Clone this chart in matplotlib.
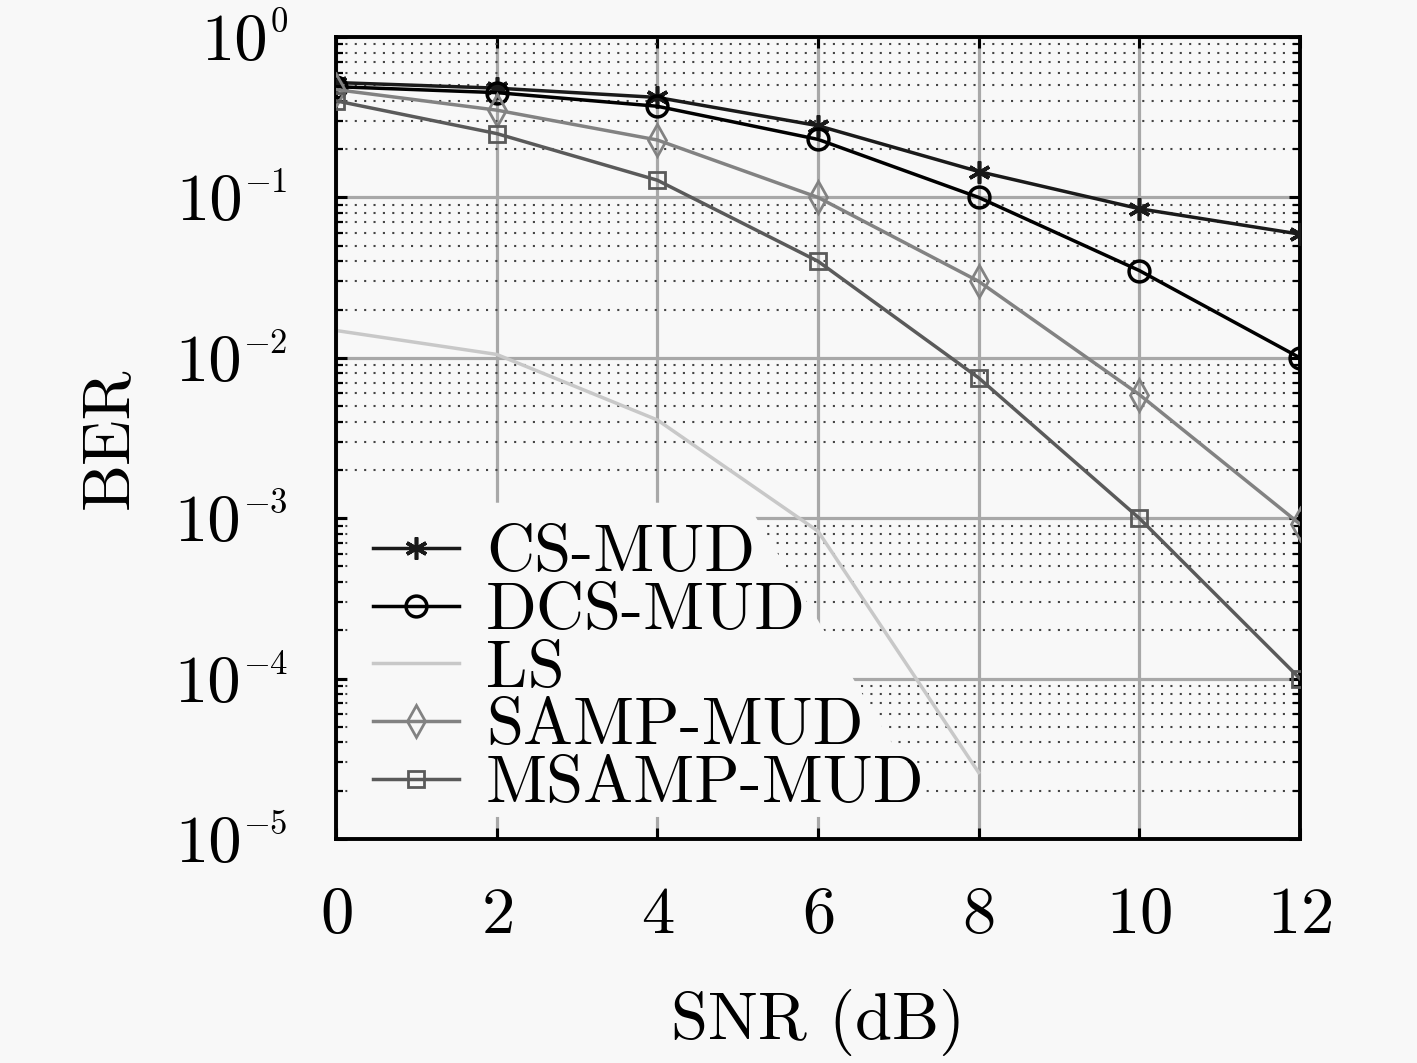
import matplotlib
matplotlib.use("Agg")
import matplotlib.pyplot as plt
import matplotlib.patches as mpatches
from matplotlib.ticker import LogLocator, NullFormatter
import numpy as np

# ── Data ────────────────────────────────────────────────────────────────────
snr = [0, 2, 4, 6, 8, 10, 12]
ber_cs = [0.52, 0.48, 0.42, 0.28, 0.145, 0.085, 0.059]
ber_dcs = [0.49, 0.45, 0.37, 0.23, 0.10, 0.035, 0.010]
snr_ls = [0, 2, 4, 6, 8]
ber_ls = [0.0148, 0.0105, 0.0041, 0.00083, 2.6e-5]
ber_samp = [0.47, 0.35, 0.228, 0.10, 0.030, 0.0059, 0.00092]
ber_msamp = [0.40, 0.25, 0.128, 0.040, 0.0075, 0.0010, 0.0001]

x_ticks = [0, 2, 4, 6, 8, 10, 12]
y_exps = [-5, -4, -3, -2, -1, 0]

BG = "#f8f8f8"

plt.rcParams["font.family"] = "serif"
plt.rcParams["font.serif"] = ["cmr10", "DejaVu Serif"]
plt.rcParams["mathtext.fontset"] = "cm"
plt.rcParams["axes.unicode_minus"] = False
plt.rcParams["axes.formatter.use_mathtext"] = True

fig = plt.figure(figsize=(14.17, 10.63), dpi=100, facecolor=BG)
ax = fig.add_axes([0.2371, 0.2107, 0.9174 - 0.2371, 0.9652 - 0.2107])
ax.set_facecolor(BG)
ax.set_axisbelow(True)

ast = (6, 2, 0)  # asterisk marker
ax.plot(snr, ber_cs, color="#1a1a1a", lw=2.5, marker=ast, ms=16, mew=2.6,
        label="CS-MUD", zorder=3)
ax.plot(snr, ber_dcs, color="black", lw=2.5, marker="o", ms=15, mfc="none",
        mew=2.5, label="DCS-MUD", zorder=3)
ax.plot(snr_ls, ber_ls, color="#c8c8c8", lw=2.5, label="LS", zorder=2)
ax.plot(snr, ber_samp, color="#828282", lw=2.5, marker="d", ms=16, mfc="none",
        mew=2.0, label="SAMP-MUD", zorder=3)
ax.plot(snr, ber_msamp, color="#5a5a5a", lw=2.5, marker="s", ms=11, mfc="none",
        mew=2.0, label="MSAMP-MUD", zorder=3)

ax.set_yscale("log")
ax.set_xlim(0, 12)
ax.set_ylim(1e-5, 1)
ax.set_xticks(x_ticks)
ax.set_yticks([10.0 ** e for e in y_exps])
ax.yaxis.set_minor_locator(LogLocator(base=10, subs=np.arange(2, 10), numticks=20))
ax.yaxis.set_minor_formatter(NullFormatter())

ax.grid(True, which="major", color="#a8a8a8", lw=2.3, ls="-")
ax.grid(True, which="minor", axis="y", color="#444444", lw=1.5, ls=(0, (1, 3.5)))

ax.tick_params(which="both", direction="in", top=True, right=True)
ax.tick_params(which="major", length=8, width=2.2)
ax.tick_params(which="minor", length=5, width=1.6)
ax.tick_params(axis="x", labelsize=48, pad=34)
ax.tick_params(axis="y", labelleft=False)
for sp in ax.spines.values():
    sp.set_linewidth(2.8)

ax.set_xlabel("SNR (dB)", fontsize=48)
ax.set_ylabel("BER", fontsize=48)
ax.xaxis.set_label_coords(0.5, -0.187)
ax.yaxis.set_label_coords(-0.203, 0.5)

leg = ax.legend(loc="lower left", bbox_to_anchor=(0.038, 0.03), frameon=False,
                fontsize=48, handlelength=1.3, handletextpad=0.4,
                labelspacing=-0.03, borderpad=0, borderaxespad=0, numpoints=1)

# y tick labels as "10" plus a small exponent (LaTeX-like proportions)
sups = []
for e in y_exps:
    s = ax.annotate(f"${e}$", xy=(0, 10.0 ** e),
                    xycoords=("axes fraction", "data"),
                    xytext=(-34.5, 3.6), textcoords="offset points",
                    ha="right", va="baseline", fontsize=25)
    sups.append((e, s))

fig.canvas.draw()
renderer = fig.canvas.get_renderer()
ax_x0 = ax.get_window_extent(renderer).x0
for e, s in sups:
    sb = s.get_window_extent(renderer)
    off = (sb.x0 - ax_x0 - 2) * 72 / fig.dpi
    ax.annotate("10", xy=(0, 10.0 ** e), xycoords=("axes fraction", "data"),
                xytext=(off, -16.6), textcoords="offset points",
                ha="right", va="baseline", fontsize=48)

# slanted background behind the legend (hides the grid there)
lb = leg.get_window_extent(renderer)
texts = leg.get_texts()
tb_first = texts[0].get_window_extent(renderer)
tb_last = texts[-1].get_window_extent(renderer)
inv = ax.transAxes.inverted()
pts = [
    (lb.x0 - 25, lb.y0 - 2),
    (lb.x0 - 25, tb_first.y1 + 22),
    (tb_first.x1 - 8, tb_first.y1 + 22),
    (tb_last.x1 + 12, lb.y0 - 2),
]
poly = mpatches.Polygon([inv.transform(p) for p in pts], closed=True,
                        transform=ax.transAxes, facecolor=BG,
                        edgecolor="none", zorder=1)
ax.add_patch(poly)

fig.savefig("out.png", dpi=100, facecolor=BG)
